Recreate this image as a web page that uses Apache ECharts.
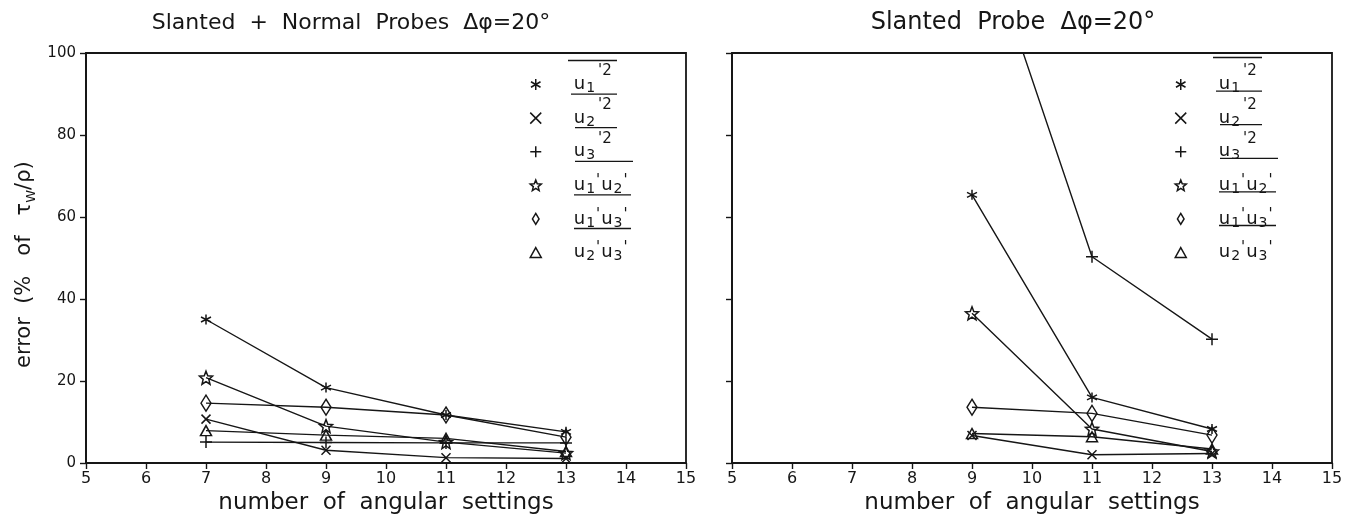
<!DOCTYPE html>
<html><head><meta charset="utf-8">
<script src="https://cdn.jsdelivr.net/npm/echarts@6.0.0/dist/echarts.min.js"></script>
<style>html,body{margin:0;padding:0;background:#fff}#c{width:1353px;height:515px}</style>
</head><body><div id="c"></div>
<script>
// ---------------- data ----------------
const seriesNames = ["u1'2", "u2'2", "u3'2", "u1'u2'", "u1'u3'", "u2'u3'"];
const xLeft = [7, 9, 11, 13];
const xRight = [9, 11, 13];
const left_u1u1 = [35.0, 18.4, 11.7, 7.6];
const left_u2u2 = [10.7, 3.1, 1.3, 1.1];
const left_u3u3 = [5.1, 5.0, 4.9, 4.9];
const left_u1u2 = [20.8, 9.0, 5.1, 2.4];
const left_u1u3 = [14.6, 13.6, 11.7, 6.3];
const left_u2u3 = [7.9, 6.8, 6.0, 2.8];
const right_u1u1 = [65.4, 16.0, 8.3];
const right_u2u2 = [6.7, 2.0, 2.3];
const right_u3u3 = [137.0, 50.3, 30.2];
const right_u1u2 = [36.5, 8.3, 2.8];
const right_u1u3 = [13.6, 12.1, 6.8];
const right_u2u3 = [7.2, 6.4, 3.4];
const xTickValues = [5, 6, 7, 8, 9, 10, 11, 12, 13, 14, 15];
const yTickValues = [0, 20, 40, 60, 80, 100];
const panelTitles = ['Slanted  +  Normal  Probes  Δφ=20°', 'Slanted  Probe  Δφ=20°'];
const xAxisTitle = 'number  of  angular  settings';
const yAxisTitle = 'error  (%   of   τ{s|W}/ρ)  ';

// ---------------- styling ----------------
const FONT = '"DejaVu Sans", sans-serif';
const INK = '#161616';
const SYMBOLS = [
  'path://M5 0L5 10M0.67 2.5L9.33 7.5M0.67 7.5L9.33 2.5',
  'path://M0 0L10 10M10 0L0 10',
  'path://M5 0L5 10M0 5L10 5',
  'path://M5 0L6.29 3.22L9.76 3.46L7.09 5.68L7.94 9.05L5 7.2L2.06 9.05L2.91 5.68L0.24 3.46L3.71 3.22Z',
  'path://M3 0L6 5L3 10L0 5Z',
  'path://M5 0L10 9L0 9Z'
];
const SYMSIZE = [10, 9, 12, 13, [10, 16], [11, 10]];
const RICH_LABEL = {
  "u1'2": "{g| }{b|u}{sb|1}{sp|'2}",
  "u2'2": "{g| }{b|u}{sb|2}{sp|'2}",
  "u3'2": "{g| }{b|u}{sb|3}{sp|'2}",
  "u1'u2'": "{g| }{b|u}{sb|1}{pr|'}{b|u}{sb|2}{pr|'}",
  "u1'u3'": "{g| }{b|u}{sb|1}{pr|'}{b|u}{sb|3}{pr|'}",
  "u2'u3'": "{g| }{b|u}{sb|2}{pr|'}{b|u}{sb|3}{pr|'}"
};
const OVERLINE_X = [-5, -2, 2, 2, 1, 1];
const OVERLINE_W = [49, 46, 42, 58, 57, 57];

const panels = [
  {x: xLeft, vals: [left_u1u1, left_u2u2, left_u3u3, left_u1u2, left_u1u3, left_u2u3],
   grid: {left: 86, right: 667, top: 53, bottom: 52}, showY: true, titleX: 351, titleSize: 22,
   legendLeft: 529.5, olOff: 24},
  {x: xRight, vals: [right_u1u1, right_u2u2, right_u3u3, right_u1u2, right_u1u3, right_u2u3],
   grid: {left: 732, right: 21, top: 53, bottom: 52}, showY: false, titleX: 1013, titleSize: 24,
   legendLeft: 1174.5, olOff: 27}
];

const ROW = 33.6, ITEM_H = 44, ICON = 11, GAP = 27.5, ROW0 = 84.5;

const grids = [], xAxes = [], yAxes = [], series = [], legends = [], graphics = [];
panels.forEach((p, ci) => {
  grids.push(Object.assign({show: true, borderColor: INK, borderWidth: 1.8, backgroundColor: 'transparent', containLabel: false, outerBoundsMode: 'none'}, p.grid));
  xAxes.push({
    type: 'value', gridIndex: ci,
    min: xTickValues[0], max: xTickValues[xTickValues.length - 1], interval: xTickValues[1] - xTickValues[0],
    axisLine: {show: true, onZero: false, lineStyle: {color: INK, width: 1.8}},
    axisTick: {show: true, inside: false, length: 6, lineStyle: {color: INK, width: 1.4}},
    axisLabel: {show: true, color: INK, fontFamily: FONT, fontSize: 16, margin: 8},
    splitLine: {show: false},
    name: xAxisTitle, nameLocation: 'middle', nameGap: 26,
    nameTextStyle: {color: INK, fontFamily: FONT, fontSize: 23}
  });
  const ya = {
    type: 'value', gridIndex: ci,
    min: yTickValues[0], max: yTickValues[yTickValues.length - 1], interval: yTickValues[1] - yTickValues[0],
    axisLine: {show: true, onZero: false, lineStyle: {color: INK, width: 1.8}},
    axisTick: {show: true, inside: false, length: 6, lineStyle: {color: INK, width: 1.4}},
    axisLabel: {show: p.showY, color: INK, fontFamily: FONT, fontSize: 15, margin: 10},
    splitLine: {show: false}
  };
  if (p.showY) {
    ya.name = yAxisTitle; ya.nameLocation = 'middle'; ya.nameGap = 48;
    ya.nameTextStyle = {color: INK, fontFamily: FONT, fontSize: 21, lineHeight: 26,
      rich: {s: {fontFamily: FONT, fontSize: 13, lineHeight: 16, verticalAlign: 'bottom', color: INK}}};
  }
  yAxes.push(ya);
  seriesNames.forEach((nm, si) => {
    series.push({
      type: 'line', name: nm, xAxisIndex: ci, yAxisIndex: ci,
      data: p.x.map((xv, i) => [xv, p.vals[si][i]]),
      symbol: SYMBOLS[si], symbolSize: SYMSIZE[si], symbolKeepAspect: false,
      showSymbol: true, clip: true,
      lineStyle: {color: INK, width: 1.4},
      itemStyle: {color: 'rgba(0,0,0,0)', borderColor: INK, borderWidth: 1.5},
      emphasis: {disabled: true}, silent: true, animation: false, z: 3
    });
  });
  legends.push({
    orient: 'vertical', left: p.legendLeft, top: ROW0 - ITEM_H / 2, padding: 0,
    itemWidth: ICON, itemHeight: ICON, itemGap: ROW - ITEM_H, selectedMode: false,
    itemStyle: {color: 'rgba(0,0,0,0)', borderColor: INK, borderWidth: 1.5},
    lineStyle: {width: 0},
    data: seriesNames.map((nm, si) => ({name: nm, icon: SYMBOLS[si]})),
    formatter: nm => RICH_LABEL[nm],
    textStyle: {color: INK, fontFamily: FONT, fontSize: 18, lineHeight: ITEM_H,
      rich: {
        g: {width: GAP, fontSize: 18, lineHeight: ITEM_H},
        b: {fontFamily: FONT, fontSize: 18, lineHeight: ITEM_H, verticalAlign: 'middle', color: INK},
        sb: {fontFamily: FONT, fontSize: 14, lineHeight: ITEM_H, height: 36, verticalAlign: 'bottom', padding: [0, 0, 0, 1], color: INK},
        sp: {fontFamily: FONT, fontSize: 15, lineHeight: ITEM_H, height: 18, verticalAlign: 'top', padding: [0, 0, 0, 3], color: INK},
        pr: {fontFamily: FONT, fontSize: 15, lineHeight: ITEM_H, height: 36, verticalAlign: 'top', padding: [0, 1, 0, 1], color: INK}
      }}
  });
  // legend overlines
  const textX = p.legendLeft + ICON + 5 + GAP;
  seriesNames.forEach((nm, si) => {
    const cy = ROW0 + si * ROW - p.olOff;
    graphics.push({type: 'line', silent: true,
      shape: {x1: textX + OVERLINE_X[si], y1: cy, x2: textX + OVERLINE_X[si] + OVERLINE_W[si], y2: cy},
      style: {stroke: INK, lineWidth: 1.3}});
  });
  graphics.push({type: 'text', silent: true, x: p.titleX, y: 23,
    style: {text: panelTitles[ci], font: p.titleSize + 'px ' + FONT, fill: INK,
      align: 'center', verticalAlign: 'middle', textAlign: 'center', textVerticalAlign: 'middle'}});
});

const chart = echarts.init(document.getElementById('c'), null, {renderer: 'canvas'});
chart.setOption({
  animation: false,
  backgroundColor: '#fff',
  grid: grids, xAxis: xAxes, yAxis: yAxes, series: series, legend: legends,
  graphic: graphics, tooltip: {show: false}
});
</script>
</body></html>
